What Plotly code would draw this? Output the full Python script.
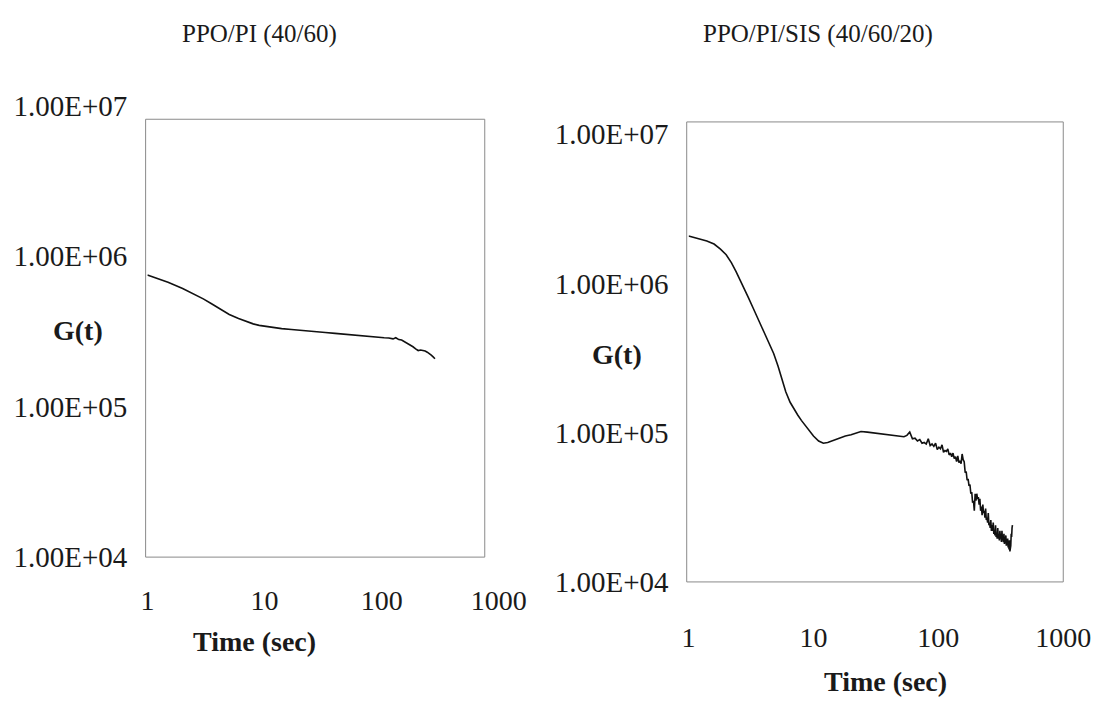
import plotly.graph_objects as go

# ---------------- data ----------------
t_left = [1.0, 1.2, 1.5, 2.0, 2.5, 3.0, 3.5, 4.0, 5.0, 6.0, 7.0, 8.0, 9.0, 10, 12, 14, 17, 20,
          24, 28, 33, 40, 47, 55, 65, 75, 85, 95, 105, 115, 125, 132, 140, 148, 155, 165, 175,
          185, 195, 205, 215, 225, 235, 245, 255, 265, 275, 285]
g_left = [7.5e5, 7.15e5, 6.7e5, 6.1e5, 5.6e5, 5.2e5, 4.85e5, 4.55e5, 4.1e5, 3.85e5, 3.68e5,
          3.55e5, 3.47e5, 3.42e5, 3.35e5, 3.3e5, 3.26e5, 3.23e5, 3.18e5, 3.15e5, 3.11e5, 3.07e5,
          3.03e5, 3.01e5, 2.96e5, 2.93e5, 2.91e5, 2.88e5, 2.87e5, 2.86e5, 2.82e5, 2.87e5, 2.79e5,
          2.77e5, 2.71e5, 2.66e5, 2.58e5, 2.5e5, 2.42e5, 2.36e5, 2.38e5, 2.37e5, 2.34e5, 2.3e5,
          2.26e5, 2.2e5, 2.14e5, 2.08e5]

t_right = [1.0, 1.2, 1.4, 1.6, 1.8, 2.0, 2.2, 2.4, 2.6, 2.8, 3.0, 3.3, 3.6, 4.0, 4.4, 4.8, 5.2,
           5.6, 6.0, 6.5, 7.0, 7.5, 8.0, 9.0, 10, 11, 12, 13, 14, 16, 18, 20, 22, 24, 27, 30, 34,
           38, 42, 46,
           50, 53, 56, 59, 62, 65, 68, 71, 74, 77, 80, 83, 86, 89, 92, 95, 98, 101, 104, 107,
           110, 113, 116, 119, 122, 125, 128, 131, 134, 137, 140, 143, 146, 149, 152, 155, 158,
           161, 164, 167, 170, 173, 176, 179, 182, 185, 188, 191, 194, 197, 200, 203, 206, 209,
           212, 215, 218, 221, 224, 227, 230, 233, 236, 239, 242, 245, 248, 251, 254, 257, 260,
           263, 266, 269, 272, 275, 278, 281, 284, 287, 290, 293, 296, 299, 302, 305, 308, 311,
           314, 317, 320, 323, 326, 329, 332, 335, 338, 341, 344, 347, 350, 353, 356, 359, 362,
           365, 368, 371, 374, 377, 380, 383, 386, 389, 392]
g_right = [2.08e6, 2.0e6, 1.93e6, 1.84e6, 1.7e6, 1.56e6, 1.38e6, 1.2e6, 1.05e6, 9.2e5, 8.1e5,
           6.8e5, 5.8e5, 4.8e5, 4.0e5, 3.4e5, 2.8e5, 2.25e5, 1.88e5, 1.6e5, 1.43e5, 1.31e5,
           1.21e5, 1.06e5, 9.5e4, 8.8e4, 8.5e4, 8.6e4, 8.8e4, 9.2e4, 9.5e4, 9.7e4, 9.9e4,
           1.02e5, 1.01e5, 1.0e5, 9.9e4, 9.8e4, 9.7e4, 9.6e4,
           9.5e4, 9.4e4, 9.6e4, 1.01e5, 9.1e4, 9.2e4, 8.8e4, 9.0e4, 8.5e4, 8.6e4, 8.4e4, 9.1e4,
           8.2e4, 8.4e4, 8.1e4, 8.5e4, 7.7e4, 8.0e4, 7.8e4, 8.3e4, 7.4e4, 7.6e4, 7.5e4, 7.8e4,
           7.1e4, 7.3e4, 6.9e4, 7.3e4, 6.7e4, 6.9e4, 6.4e4, 7.0e4, 6.3e4, 6.5e4, 6.2e4, 7.2e4,
           6.6e4,
           6.4e4, 5.4e4, 5.5e4, 4.8e4, 4.9e4, 4.4e4, 4.5e4, 3.9e4, 4.0e4, 3.4e4, 3.5e4, 3.0e4,
           3.9e4, 3.5e4, 3.9e4, 3.6e4, 3.7e4, 3.3e4, 3.6e4, 3.0e4, 3.2e4, 2.8e4, 3.3e4, 2.9e4,
           3.0e4, 2.7e4, 3.1e4, 2.6e4, 2.7e4, 2.5e4, 2.9e4, 2.4e4, 2.5e4, 2.3e4, 2.6e4, 2.2e4,
           2.4e4, 2.2e4, 2.5e4, 2.1e4, 2.2e4, 2.05e4, 2.4e4, 2.0e4, 2.1e4, 1.95e4, 2.3e4,
           1.95e4, 2.05e4, 1.9e4, 2.2e4, 1.95e4, 2.1e4, 1.85e4, 2.2e4, 1.9e4, 2.0e4, 1.85e4,
           2.1e4, 1.8e4, 1.95e4, 1.85e4, 2.05e4, 1.75e4, 1.9e4, 1.8e4, 1.95e4, 1.7e4, 1.85e4,
           1.65e4, 1.9e4, 1.6e4, 1.7e4, 1.75e4, 2.1e4, 2.0e4, 2.3e4, 2.4e4]

x_tickvals = [1, 10, 100, 1000]
x_ticktext = ["1", "10", "100", "1000"]
y_tickvals = [1e4, 1e5, 1e6, 1e7]
y_ticktext = ["1.00E+04", "1.00E+05", "1.00E+06", "1.00E+07"]

titles = ["PPO/PI (40/60)", "PPO/PI/SIS (40/60/20)"]
y_title = "G(t)"
x_title = "Time (sec)"

# ---------------- figure ----------------
W, H = 1099, 701
FONT = "Liberation Serif, Times New Roman, serif"
TXT = "#1a1a1a"


def px_x(p):
    return p / W


def px_y(p):
    return 1 - p / H


fig = go.Figure()
fig.add_trace(go.Scatter(x=t_left, y=g_left, mode="lines",
                         line=dict(color="#111111", width=1.6),
                         xaxis="x", yaxis="y", showlegend=False))
fig.add_trace(go.Scatter(x=t_right, y=g_right, mode="lines",
                         line=dict(color="#111111", width=1.6),
                         xaxis="x2", yaxis="y2", showlegend=False))


def xax(dom, anchor, standoff):
    return dict(domain=dom, anchor=anchor, type="log", range=[0, 3],
                tickvals=x_tickvals, ticktext=x_ticktext,
                showgrid=False, zeroline=False, showline=False, ticks="",
                tickfont=dict(family=FONT, size=28, color=TXT), ticklabelstandoff=standoff)


def yax(dom, anchor, rng):
    return dict(domain=dom, anchor=anchor, type="log", range=rng,
                tickvals=y_tickvals, ticktext=y_ticktext,
                showgrid=False, zeroline=False, showline=False, ticks="",
                tickfont=dict(family=FONT, size=29, color=TXT), ticklabelstandoff=19)


fig.update_layout(
    width=W, height=H,
    margin=dict(l=0, r=0, t=0, b=0),
    paper_bgcolor="white", plot_bgcolor="white",
    xaxis=xax([px_x(145), px_x(508)], "y", 24),
    yaxis=yax([px_y(567), px_y(94)], "x", [4, 7]),
    xaxis2=xax([px_x(704), px_x(1091)], "y2", 36),
    yaxis2=yax([px_y(593), px_y(111)], "x2", [4, 7.083]),
)

frame = dict(type="rect", line=dict(color="#8a8a8a", width=1), fillcolor="rgba(0,0,0,0)",
             layer="above")
fig.add_shape(xref="x domain", yref="y domain", x0=-0.005, x1=0.96, y0=0, y1=0.970, **frame)
fig.add_shape(xref="x2 domain", yref="y2 domain", x0=-0.005, x1=1.0, y0=0, y1=1, **frame)

ann = [
    dict(text=titles[0], x=px_x(261), y=px_y(19)),
    dict(text=titles[1], x=px_x(838), y=px_y(19)),
]
for a in ann:
    a.update(xref="paper", yref="paper", showarrow=False, xanchor="center", yanchor="middle",
             font=dict(family=FONT, size=25, color=TXT))
bold = [
    dict(text="<b>%s</b>" % y_title, x=px_x(73), y=px_y(330)),
    dict(text="<b>%s</b>" % y_title, x=px_x(630), y=px_y(355)),
    dict(text="<b>%s</b>" % x_title, x=px_x(256), y=px_y(655)),
    dict(text="<b>%s</b>" % x_title, x=px_x(907), y=px_y(697)),
]
for a in bold:
    a.update(xref="paper", yref="paper", showarrow=False, xanchor="center", yanchor="middle",
             font=dict(family=FONT, size=28, color=TXT))
fig.update_layout(annotations=ann + bold)

fig.write_html("out.html")
